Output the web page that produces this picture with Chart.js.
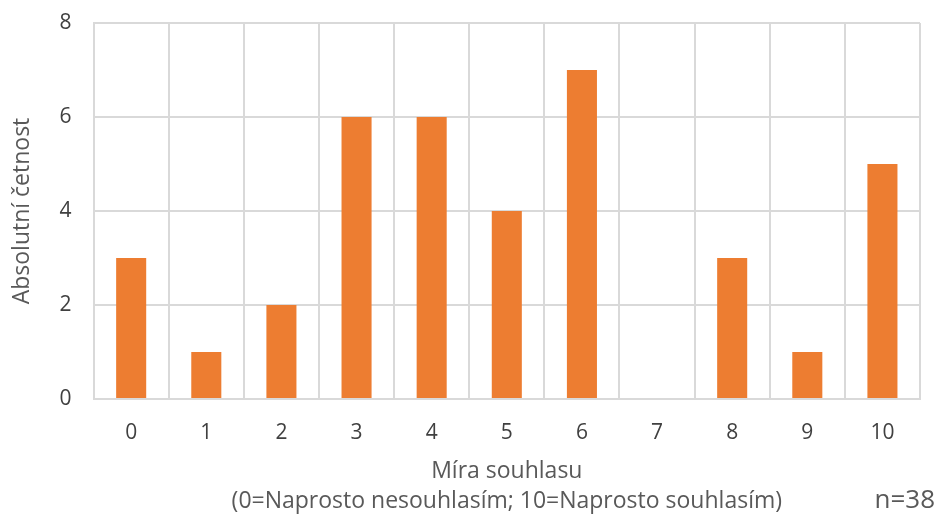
<!DOCTYPE html>
<html>
<head>
<meta charset="utf-8">
<script src="https://cdn.jsdelivr.net/npm/chart.js@4"></script>
<style>
  html, body { margin: 0; padding: 0; background: #fff; }
  #wrap { width: 938px; height: 517px; }
</style>
</head>
<body>
<div id="wrap"><canvas id="chart"></canvas></div>
<script>
const categories = ['0', '1', '2', '3', '4', '5', '6', '7', '8', '9', '10'];
const counts = [3, 1, 2, 6, 6, 4, 7, 0, 3, 1, 5];
const yTitle = 'Absolutní četnost';
const xTitle = ['Míra souhlasu', '(0=Naprosto nesouhlasím; 10=Naprosto souhlasím)'];
const note = 'n=38';

const gridColor = '#d9d9d9';
const fontFamily = '"Open Sans", sans-serif';

// draws the sample size in the bottom right corner
const notePlugin = {
    id: 'note',
    afterDraw(chart) {
        const c = chart.ctx;
        c.save();
        c.font = '26px ' + fontFamily;
        c.fillStyle = '#595959';
        c.textAlign = 'right';
        c.textBaseline = 'middle';
        c.fillText(note, chart.width - 3, 501);
        c.restore();
    }
};

new Chart(document.getElementById('chart').getContext('2d'), {
    type: 'bar',
    data: {
        labels: categories,
        datasets: [{
            data: counts,
            backgroundColor: '#ED7D31',
            categoryPercentage: 1,
            barPercentage: 0.4
        }]
    },
    options: {
        responsive: true,
        maintainAspectRatio: false,
        animation: false,
        layout: { padding: { left: 9, right: 18, top: 23, bottom: 1 } },
        plugins: {
            legend: { display: false },
            tooltip: { enabled: false }
        },
        scales: {
            x: {
                grid: { color: gridColor, lineWidth: 2, drawTicks: false },
                border: { color: gridColor, width: 2 },
                ticks: {
                    color: '#404040',
                    font: { family: fontFamily, size: 21 },
                    padding: 21
                },
                title: {
                    display: true,
                    text: xTitle,
                    color: '#595959',
                    font: { family: fontFamily, size: 23, lineHeight: 1.3 },
                    padding: { top: -10, bottom: 0 }
                }
            },
            y: {
                min: 0,
                max: 8,
                grid: { color: gridColor, lineWidth: 2, drawTicks: false },
                border: { color: gridColor, width: 2 },
                ticks: {
                    stepSize: 2,
                    color: '#404040',
                    font: { family: fontFamily, size: 21 },
                    padding: 22
                },
                title: {
                    display: true,
                    text: yTitle,
                    color: '#595959',
                    font: { family: fontFamily, size: 23 },
                    padding: { top: 0, bottom: 1 }
                },
                // tick padding would otherwise push the plot edges in
                afterFit(scale) {
                    scale.paddingTop = 0;
                    scale.paddingBottom = 0;
                }
            }
        }
    },
    plugins: [notePlugin]
});
</script>
</body>
</html>
